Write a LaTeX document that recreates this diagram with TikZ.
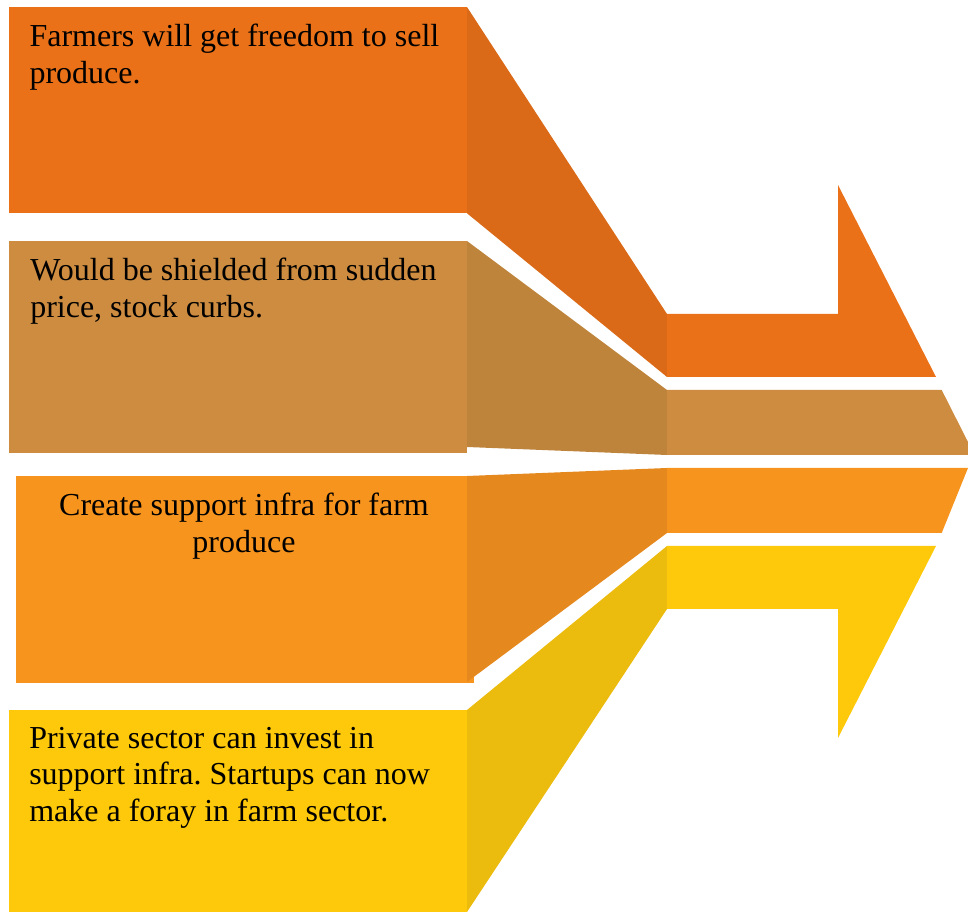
\documentclass[tikz,border=0pt]{standalone}
\usepackage{fontspec}
\setmainfont{Liberation Serif}
\frenchspacing

% band colours: face, side (funnel)
\definecolor{orFace}{HTML}{EB7118}
\definecolor{orSide}{HTML}{DA6A18}
\definecolor{tanFace}{HTML}{CD8C40}
\definecolor{tanSide}{HTML}{BF843B}
\definecolor{ltFace}{HTML}{F7941E}
\definecolor{ltSide}{HTML}{E5891F}
\definecolor{ylFace}{HTML}{FDC90A}
\definecolor{ylSide}{HTML}{EBBB0D}

\begin{document}
\begin{tikzpicture}[x=0.75pt,y=-0.75pt,
  lbl/.style={inner sep=0pt, font=\fontsize{24}{27.5}\selectfont\frenchspacing,
              text width=340pt, align=flush left, anchor=base west},
  clbl/.style={lbl, align=flush center, anchor=base}]
\useasboundingbox (0,0) rectangle (968,912);

% ---- band 1: freedom to sell
\fill[orFace] (9,7) rectangle (467,213.3);
\fill[orSide] (467,7) -- (667,314) -- (667,377) -- (467,213.3) -- cycle;
\fill[orFace] (667,314) -- (838,314) -- (838,185) -- (936,377) -- (667,377) -- cycle;
\node[lbl] (t1) at (29.3,46.7) {Farmers will get freedom to sell\\produce.};

% ---- band 2: shielded from curbs
\fill[tanFace] (9,241) rectangle (467,453);
\fill[tanSide] (467,241) -- (667,390) -- (667,455) -- (467,447) -- cycle;
\fill[tanFace] (667,390) -- (941.7,390) -- (968,442) -- (968,455) -- (667,455) -- cycle;
\node[lbl] (t2) at (30,280.7) {Would be shielded from sudden\\price, stock curbs.};

% ---- band 3: support infra
\fill[ltFace] (16,476) rectangle (474,683);
\fill[ltSide] (467,476) -- (667,468) -- (667,533) -- (467,682) -- cycle;
\fill[ltFace] (667,468) -- (968,468) -- (941.7,533) -- (667,533) -- cycle;
\node[clbl] (t3) at (244,516) {Create support infra for farm\\produce};

% ---- band 4: private sector
\fill[ylFace] (9,710) rectangle (467,912);
\fill[ylSide] (467,710) -- (667,546) -- (667,609) -- (467,912) -- cycle;
\fill[ylFace] (667,546) -- (936,546) -- (838,738) -- (838,609) -- (667,609) -- cycle;
\node[lbl] (t4) at (29,748) {Private sector can invest in\\support infra. Startups can now\\make a foray in farm sector.};
\end{tikzpicture}
\end{document}
